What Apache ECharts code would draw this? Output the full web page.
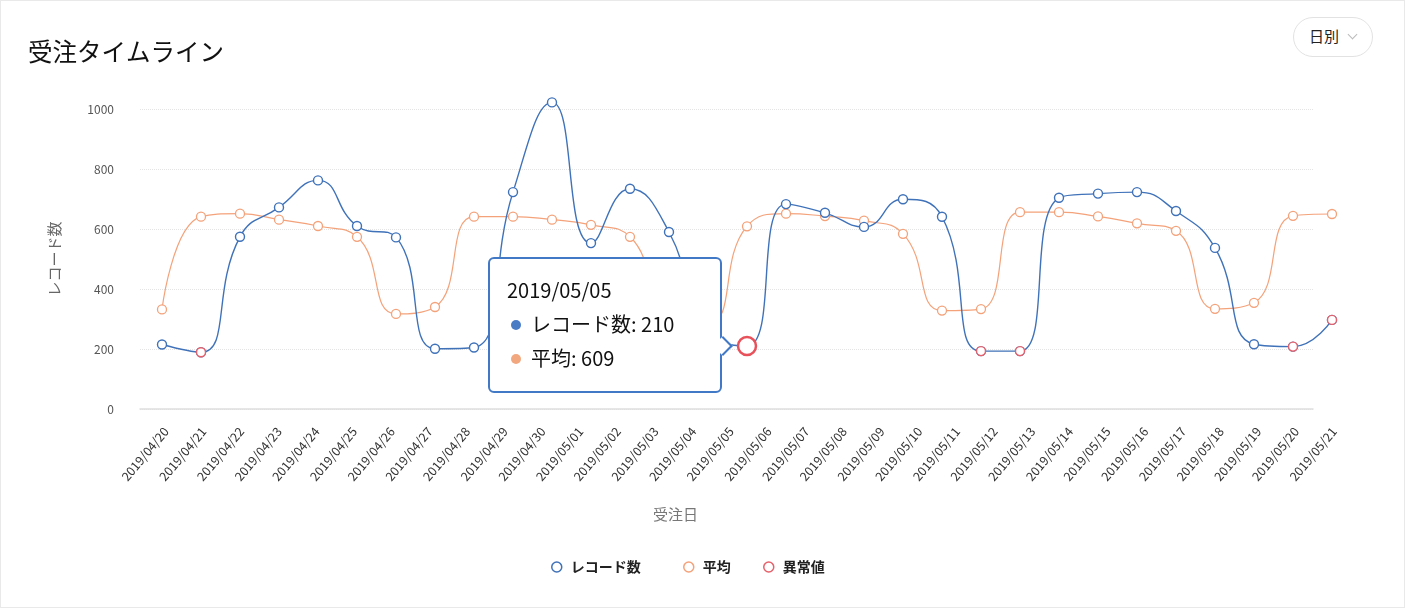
<!DOCTYPE html>
<html>
<head>
<meta charset="utf-8">
<script src="https://cdn.jsdelivr.net/npm/echarts/dist/echarts.min.js"></script>
<style>
html,body{margin:0;padding:0;background:#fff;}
#chart{position:absolute;left:0;top:0;width:1405px;height:608px;}
#frame{position:absolute;left:0;top:0;width:1405px;height:608px;box-sizing:border-box;border:1px solid #e9e9e9;pointer-events:none;}
#dd{position:absolute;left:1293px;top:17px;width:80px;height:40px;box-sizing:border-box;border:1px solid #e2e2e2;border-radius:20px;font-family:'Noto Sans CJK JP',sans-serif;font-size:15px;color:#222;z-index:5;background:#fff;}
#dd .t{position:absolute;left:15px;top:8px;line-height:20px;}
#dd .c{position:absolute;left:55px;top:13px;width:6px;height:6px;border-right:1px solid #bbb;border-bottom:1px solid #bbb;transform:rotate(45deg);}
</style>
</head>
<body>
<div id="chart"></div>
<div id="frame"></div>
<div id="dd"><span class="t">日別</span><span class="c"></span></div>
<script>
// ---- data ----
const tickLabels = ['2019/04/20','2019/04/21','2019/04/22','2019/04/23','2019/04/24','2019/04/25','2019/04/26','2019/04/27','2019/04/28','2019/04/29','2019/04/30','2019/05/01','2019/05/02','2019/05/03','2019/05/04','2019/05/05','2019/05/06','2019/05/07','2019/05/08','2019/05/09','2019/05/10','2019/05/11','2019/05/12','2019/05/13','2019/05/14','2019/05/15','2019/05/16','2019/05/17','2019/05/18','2019/05/19','2019/05/20','2019/05/21'];
const pointDates = ['2019/04/20','2019/04/21','2019/04/22','2019/04/23','2019/04/24','2019/04/25','2019/04/26','2019/04/27','2019/04/28','2019/04/29','2019/04/30','2019/05/01','2019/05/02','2019/05/03','2019/05/04','2019/05/05','2019/05/06','2019/05/07','2019/05/08','2019/05/09','2019/05/10','2019/05/11','2019/05/12','2019/05/13','2019/05/14','2019/05/15','2019/05/16','2019/05/17','2019/05/18','2019/05/19','2019/05/20'];
const recordCounts = [215,189,574,672,762,610,572,201,205,723,1022,553,734,590,250,210,683,654,607,699,641,193,193,704,718,723,660,537,216,208,297];
const averages = [332,641,651,631,610,574,317,340,641,641,631,614,574,310,285,609,651,643,628,584,328,333,656,656,642,619,594,334,354,644,650];
const anomalyIndices = [1,15,21,22,29,30];
const tooltipIndex = 15;
const yMin = 0, yMax = 1000, yStep = 200;

const FONT = "'Noto Sans CJK JP', 'Noto Sans', sans-serif";
const BLUE = '#3f72b9';
const ORANGE = '#f4a27a';
const RED = '#e6616b';
const RED_HI = '#e8505a';
const TIP = '#4179c6';

const anomalyData = recordCounts.map((v, i) => anomalyIndices.indexOf(i) >= 0 ? v : '-');

const chart = echarts.init(document.getElementById('chart'), null, {renderer: 'canvas'});

const gridBase = {top: 109, bottom: 199, containLabel: false, outerBoundsMode: 'none'};

const option = {
  animation: false,
  textStyle: {fontFamily: FONT},
  title: {
    text: '受注タイムライン', left: 28, top: 39, padding: 0,
    textStyle: {fontSize: 24.5, fontWeight: 'normal', color: '#111', fontFamily: FONT}
  },
  grid: [
    Object.assign({left: 140, right: 92}, gridBase),
    Object.assign({left: 162, right: 73}, gridBase),
    Object.assign({left: 166, right: 71}, gridBase)
  ],
  xAxis: [
    {gridIndex: 0, type: 'category', data: tickLabels, boundaryGap: false,
     axisLine: {show: true, lineStyle: {color: '#dedede', width: 1.5}},
     axisTick: {show: false}, axisLabel: {show: false}, splitLine: {show: false}},
    {gridIndex: 1, type: 'category', data: pointDates, boundaryGap: false, show: false},
    {gridIndex: 2, type: 'category', data: tickLabels, boundaryGap: false,
     axisLine: {show: false}, axisTick: {show: false}, splitLine: {show: false},
     axisLabel: {show: true, interval: 0, rotate: 50, margin: 20, fontSize: 12.5, color: '#333', fontFamily: FONT, hideOverlap: false}}
  ],
  yAxis: [
    {gridIndex: 0, type: 'value', min: yMin, max: yMax, interval: yStep,
     name: 'レコード数', nameLocation: 'middle', nameGap: 78, nameRotate: 90,
     nameTextStyle: {fontSize: 15, color: '#666', fontFamily: FONT},
     axisLine: {show: false}, axisTick: {show: false},
     axisLabel: {margin: 26, fontSize: 12, color: '#555', fontFamily: FONT, formatter: v => String(v)},
     splitLine: {show: true, lineStyle: {type: 'dotted', color: '#e4e4e4', width: 1}}},
    {gridIndex: 1, type: 'value', min: yMin, max: yMax, interval: yStep, show: false, splitLine: {show: false}},
    {gridIndex: 2, type: 'value', min: yMin, max: yMax, interval: yStep, show: false, splitLine: {show: false}}
  ],
  legend: [
    {left: 546, top: 555, itemWidth: 18, itemHeight: 10, selectedMode: false,
     textStyle: {fontSize: 14, fontWeight: 'bold', color: '#222', fontFamily: FONT},
     data: [{name: 'レコード数', icon: 'circle', itemStyle: {color: '#fff', borderColor: BLUE, borderWidth: 1.5}}]},
    {left: 678, top: 555, itemWidth: 18, itemHeight: 10, selectedMode: false,
     textStyle: {fontSize: 14, fontWeight: 'bold', color: '#222', fontFamily: FONT},
     data: [{name: '平均', icon: 'circle', itemStyle: {color: '#fff', borderColor: ORANGE, borderWidth: 1.5}}]},
    {left: 758, top: 555, itemWidth: 18, itemHeight: 10, selectedMode: false,
     textStyle: {fontSize: 14, fontWeight: 'bold', color: '#222', fontFamily: FONT},
     data: [{name: '異常値', icon: 'circle', itemStyle: {color: '#fff', borderColor: RED, borderWidth: 1.5}}]}
  ],
  graphic: [
    {type: 'text', left: 653, top: 507, silent: true,
     style: {text: '受注日', font: '15px ' + FONT, fill: '#777'}}
  ],
  tooltip: {
    trigger: 'item', triggerOn: 'none', alwaysShowContent: true,
    transitionDuration: 0, displayTransition: false,
    backgroundColor: '#fff', borderColor: TIP, borderWidth: 2,
    padding: [14, 18, 16, 17],
    extraCssText: 'border-radius:6px;box-shadow:none;',
    textStyle: {fontSize: 20, color: '#111', fontFamily: FONT},
    position: function (point, params, dom, rect, size) {
      const p = chart.convertToPixel({seriesIndex: 2}, [params.dataIndex, recordCounts[params.dataIndex]]);
      return [p[0] - 25 - size.contentSize[0], p[1] - 89];
    },
    formatter: function (params) {
      const i = params.dataIndex;
      const dot = c => '<span style="display:inline-block;width:10px;height:10px;border-radius:5px;background:' + c + ';margin:0 10px 0 4px;vertical-align:middle;position:relative;top:-2px;"></span>';
      return '<div style="width:195px;font-family:' + FONT.replace(/'/g, '&quot;') + ';font-size:20px;line-height:34px;color:#111;">' +
        '<div>' + pointDates[i] + '</div>' +
        '<div>' + dot('#4a7cc6') + 'レコード数: ' + recordCounts[i] + '</div>' +
        '<div>' + dot('#f2a77f') + '平均: ' + averages[i] + '</div>' +
        '</div>' +
        '<div style="position:absolute;right:-10px;top:80px;width:14px;height:14px;box-sizing:border-box;background:#fff;border-top:2px solid ' + TIP + ';border-right:2px solid ' + TIP + ';transform:rotate(45deg);"></div>';
    }
  },
  series: [
    {name: 'レコード数', type: 'line', xAxisIndex: 1, yAxisIndex: 1, data: recordCounts,
     smooth: 0.5, symbol: 'circle', symbolSize: 9, showAllSymbol: true, z: 3, clip: false,
     lineStyle: {color: BLUE, width: 1.4},
     itemStyle: {color: '#fff', borderColor: BLUE, borderWidth: 1.4},
     emphasis: {disabled: true}},
    {name: '平均', type: 'line', xAxisIndex: 1, yAxisIndex: 1, data: averages,
     smooth: 0.5, symbol: 'circle', symbolSize: 9, showAllSymbol: true, z: 2, clip: false,
     lineStyle: {color: ORANGE, width: 1.2},
     itemStyle: {color: '#fff', borderColor: ORANGE, borderWidth: 1.3},
     emphasis: {disabled: true}},
    {name: '異常値', type: 'scatter', xAxisIndex: 1, yAxisIndex: 1, data: anomalyData,
     symbol: 'circle', symbolSize: 9, z: 4, clip: false,
     itemStyle: {color: '#fff', borderColor: RED, borderWidth: 1.4, opacity: 1},
     emphasis: {scale: 2, itemStyle: {color: '#fff', borderColor: RED_HI, borderWidth: 2.5, opacity: 1}}}
  ]
};

chart.setOption(option);
chart.dispatchAction({type: 'highlight', seriesIndex: 2, dataIndex: tooltipIndex});
chart.dispatchAction({type: 'showTip', seriesIndex: 2, dataIndex: tooltipIndex});
</script>
</body>
</html>
